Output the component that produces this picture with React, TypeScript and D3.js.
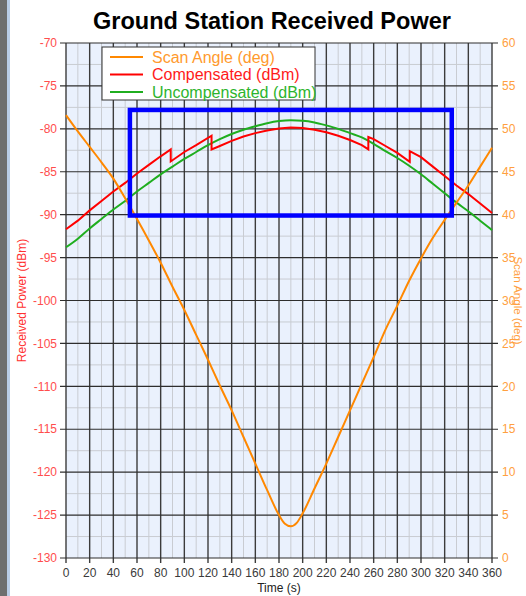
import React, { useEffect, useRef } from 'react';
import * as d3 from 'd3';

// Ground station received power vs. time, with scan angle on a second axis.

const WIDTH = 526;
const HEIGHT = 596;
const PLOT = { left: 66, right: 492, top: 43, bottom: 558 };
const FONT = '"Liberation Sans", Arial, sans-serif';

const timeTicks = [0, 20, 40, 60, 80, 100, 120, 140, 160, 180, 200, 220, 240, 260, 280, 300, 320, 340, 360];
const timeMinor = [10, 30, 50, 70, 90, 110, 130, 150, 170, 190, 210, 230, 250, 270, 290, 310, 330, 350];
const powerTicks = [-70, -75, -80, -85, -90, -95, -100, -105, -110, -115, -120, -125, -130];
const powerMinor = [-72.5, -77.5, -82.5, -87.5, -92.5, -97.5, -102.5, -107.5, -112.5, -117.5, -122.5, -127.5];
const angleTicks = [60, 55, 50, 45, 40, 35, 30, 25, 20, 15, 10, 5, 0];

// Scan angle (deg)
const scanTime = [0, 10, 20, 30, 40, 50, 60, 70, 80, 90, 100, 110, 120, 130, 140, 150, 160, 170, 180, 185, 190, 195, 200, 210, 220, 230, 240, 250, 260, 270, 280, 290, 300, 310, 320, 330, 340, 350, 360];
const scanAngle = [51.6, 49.7, 47.9, 46.1, 44.2, 41.9, 39.5, 37.0, 34.4, 31.6, 28.9, 26.0, 23.1, 20.1, 17.2, 14.1, 11.0, 7.9, 5.0, 4.0, 3.7, 4.1, 5.2, 8.1, 11.0, 14.1, 17.2, 20.3, 23.4, 26.6, 29.4, 32.3, 34.9, 37.3, 39.4, 41.4, 43.4, 45.6, 47.8];

// Uncompensated (dBm)
const uncompTime = [0, 10, 20, 30, 40, 50, 60, 70, 80, 90, 100, 110, 120, 130, 140, 150, 160, 170, 180, 190, 200, 210, 220, 230, 240, 250, 260, 270, 280, 290, 300, 310, 320, 330, 340, 350, 360];
const uncompPower = [-93.8, -92.8, -91.6, -90.5, -89.4, -88.4, -87.3, -86.3, -85.3, -84.4, -83.5, -82.7, -81.9, -81.2, -80.6, -80.1, -79.7, -79.35, -79.1, -79.0, -79.05, -79.25, -79.6, -80.0, -80.5, -81.0, -81.75, -82.6, -83.4, -84.3, -85.3, -86.4, -87.5, -88.6, -89.6, -90.7, -91.8];

// Compensated (dBm) - steps where the compensation changes
const compTime = [0, 10, 20, 30, 40, 50, 60, 70, 80, 88.5, 88.5, 100, 110, 123, 123, 130, 140, 150, 160, 170, 180, 190, 200, 210, 220, 230, 240, 250, 255.5, 255.5, 260, 270, 280, 290.5, 290.5, 300, 310, 320, 330, 340, 350, 360];
const compPower = [-91.7, -90.7, -89.5, -88.4, -87.3, -86.3, -85.2, -84.2, -83.2, -82.4, -83.8, -82.7, -81.9, -80.8, -82.4, -82.0, -81.4, -80.9, -80.5, -80.2, -79.95, -79.85, -79.9, -80.1, -80.4, -80.8, -81.3, -81.9, -82.4, -80.95, -81.2, -82.0, -82.8, -83.85, -82.6, -83.3, -84.4, -85.5, -86.6, -87.6, -88.7, -89.8];

// Highlight box (time range, power range)
const boxTime = [54, 326];
const boxPower = [-77.8, -90.1];

const legendItems = [
  { label: 'Scan Angle (deg)', line: '#ff8800', text: '#ff9a2e' },
  { label: 'Compensated (dBm)', line: '#ff0000', text: '#ff1a1a' },
  { label: 'Uncompensated (dBm)', line: '#1fae1f', text: '#2db42d' },
];

const App = () => {
  const svgRef = useRef<SVGSVGElement>(null);

  useEffect(() => {
    const svg = d3.select(svgRef.current).attr('width', WIDTH).attr('height', HEIGHT);
    svg.selectAll('*').remove();
    svg.append('rect').attr('width', WIDTH).attr('height', HEIGHT).attr('fill', 'white');

    // window frame strip on the left
    svg.append('rect').attr('x', 0).attr('y', 0).attr('width', 7).attr('height', HEIGHT).attr('fill', '#6e6e6e');
    svg.append('rect').attr('x', 7).attr('y', 0).attr('width', 3).attr('height', HEIGHT).attr('fill', '#b9cce6');

    const x = d3.scaleLinear().domain([0, 360]).range([PLOT.left, PLOT.right]);
    const y = d3.scaleLinear().domain([-130, -70]).range([PLOT.bottom, PLOT.top]);
    const yAngle = d3.scaleLinear().domain([0, 60]).range([PLOT.bottom, PLOT.top]);

    svg
      .append('rect')
      .attr('x', PLOT.left)
      .attr('y', PLOT.top)
      .attr('width', PLOT.right - PLOT.left)
      .attr('height', PLOT.bottom - PLOT.top)
      .attr('fill', '#eaf1fd');

    // minor grid
    const grid = svg.append('g');
    grid
      .selectAll('line.vmin')
      .data(timeMinor)
      .enter()
      .append('line')
      .attr('x1', (d) => x(d))
      .attr('x2', (d) => x(d))
      .attr('y1', PLOT.top)
      .attr('y2', PLOT.bottom)
      .attr('stroke', '#c9ccd2')
      .attr('stroke-width', 1);
    grid
      .selectAll('line.hmin')
      .data(powerMinor)
      .enter()
      .append('line')
      .attr('x1', PLOT.left)
      .attr('x2', PLOT.right)
      .attr('y1', (d) => y(d))
      .attr('y2', (d) => y(d))
      .attr('stroke', '#c9ccd2')
      .attr('stroke-width', 1);

    // major grid
    grid
      .selectAll('line.vmaj')
      .data(timeTicks)
      .enter()
      .append('line')
      .attr('x1', (d) => x(d))
      .attr('x2', (d) => x(d))
      .attr('y1', PLOT.top)
      .attr('y2', PLOT.bottom + 5)
      .attr('stroke', '#3c3c3c')
      .attr('stroke-width', 1.4);
    grid
      .selectAll('line.hmaj')
      .data(powerTicks)
      .enter()
      .append('line')
      .attr('x1', PLOT.left - 6)
      .attr('x2', PLOT.right + 6)
      .attr('y1', (d) => y(d))
      .attr('y2', (d) => y(d))
      .attr('stroke', '#2e2e2e')
      .attr('stroke-width', 1.2);

    // series
    const scanLine = d3
      .line<number>()
      .x((d, i) => x(scanTime[i]))
      .y((d) => yAngle(d))
      .curve(d3.curveMonotoneX);
    const uncompLine = d3
      .line<number>()
      .x((d, i) => x(uncompTime[i]))
      .y((d) => y(d))
      .curve(d3.curveMonotoneX);
    const compLine = d3
      .line<number>()
      .x((d, i) => x(compTime[i]))
      .y((d) => y(d));

    svg
      .append('path')
      .datum(uncompPower)
      .attr('fill', 'none')
      .attr('stroke', legendItems[2].line)
      .attr('stroke-width', 2)
      .attr('d', uncompLine);
    svg
      .append('path')
      .datum(compPower)
      .attr('fill', 'none')
      .attr('stroke', legendItems[1].line)
      .attr('stroke-width', 2)
      .attr('stroke-linejoin', 'miter')
      .attr('d', compLine);
    svg
      .append('path')
      .datum(scanAngle)
      .attr('fill', 'none')
      .attr('stroke', legendItems[0].line)
      .attr('stroke-width', 2)
      .attr('d', scanLine);

    // highlight box
    svg
      .append('rect')
      .attr('x', x(boxTime[0]))
      .attr('y', y(boxPower[0]))
      .attr('width', x(boxTime[1]) - x(boxTime[0]))
      .attr('height', y(boxPower[1]) - y(boxPower[0]))
      .attr('fill', 'none')
      .attr('stroke', '#0000ff')
      .attr('stroke-width', 4.5);

    // tick labels
    svg
      .append('g')
      .selectAll('text')
      .data(powerTicks)
      .enter()
      .append('text')
      .attr('x', PLOT.left - 9)
      .attr('y', (d) => y(d))
      .attr('dy', '0.35em')
      .attr('text-anchor', 'end')
      .attr('font-family', FONT)
      .attr('font-size', '12px')
      .attr('fill', '#ff4d4d')
      .text((d) => d);
    svg
      .append('g')
      .selectAll('text')
      .data(angleTicks)
      .enter()
      .append('text')
      .attr('x', PLOT.right + 10)
      .attr('y', (d) => yAngle(d))
      .attr('dy', '0.35em')
      .attr('font-family', FONT)
      .attr('font-size', '12px')
      .attr('fill', '#ffa040')
      .text((d) => d);
    svg
      .append('g')
      .selectAll('text')
      .data(timeTicks)
      .enter()
      .append('text')
      .attr('x', (d) => x(d))
      .attr('y', PLOT.bottom + 19)
      .attr('text-anchor', 'middle')
      .attr('font-family', FONT)
      .attr('font-size', '12px')
      .attr('fill', '#3a3a3a')
      .text((d) => d);

    // axis titles
    svg
      .append('text')
      .attr('x', (PLOT.left + PLOT.right) / 2)
      .attr('y', 592)
      .attr('text-anchor', 'middle')
      .attr('font-family', FONT)
      .attr('font-size', '12px')
      .attr('fill', '#222')
      .text('Time (s)');
    svg
      .append('text')
      .attr('transform', `translate(26,${(PLOT.top + PLOT.bottom) / 2}) rotate(-90)`)
      .attr('text-anchor', 'middle')
      .attr('font-family', FONT)
      .attr('font-size', '12px')
      .attr('fill', '#ff3030')
      .text('Received Power (dBm)');
    svg
      .append('text')
      .attr('transform', `translate(514,${(PLOT.top + PLOT.bottom) / 2}) rotate(90)`)
      .attr('text-anchor', 'middle')
      .attr('font-family', FONT)
      .attr('font-size', '11.5px')
      .attr('fill', '#ffa040')
      .text('Scan Angle (deg)');

    // title
    svg
      .append('text')
      .attr('x', 272)
      .attr('y', 29)
      .attr('text-anchor', 'middle')
      .attr('font-family', FONT)
      .attr('font-weight', 'bold')
      .attr('font-size', '23.5px')
      .attr('fill', '#000')
      .text('Ground Station Received Power');

    // legend
    const legend = svg.append('g');
    legend
      .append('rect')
      .attr('x', 102)
      .attr('y', 47)
      .attr('width', 213)
      .attr('height', 53)
      .attr('fill', 'white')
      .attr('stroke', '#333')
      .attr('stroke-width', 1);
    legendItems.forEach((item, i) => {
      const cy = 57 + i * 17.5;
      legend
        .append('line')
        .attr('x1', 110)
        .attr('x2', 143)
        .attr('y1', cy)
        .attr('y2', cy)
        .attr('stroke', item.line)
        .attr('stroke-width', 2);
      legend
        .append('text')
        .attr('x', 152)
        .attr('y', cy)
        .attr('dy', '0.35em')
        .attr('font-family', FONT)
        .attr('font-size', '16px')
        .attr('fill', item.text)
        .text(item.label);
    });
  }, []);

  return <svg ref={svgRef} style={{ position: 'absolute', left: 0, top: 0, display: 'block' }} />;
};

export default App;
